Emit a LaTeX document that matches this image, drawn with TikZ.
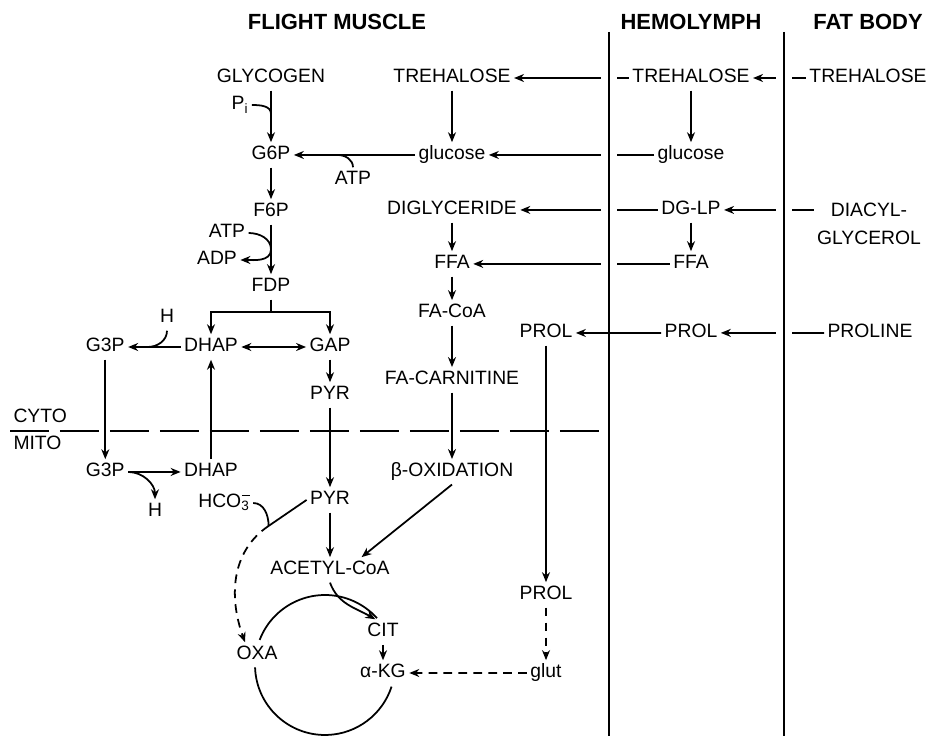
\documentclass[tikz,border=0pt]{standalone}
\usepackage{fontspec}
\setmainfont{Liberation Sans}
\usetikzlibrary{arrows.meta, positioning, calc}

\begin{document}
\begin{tikzpicture}[
    x=0.02cm, y=0.02cm,
    chem/.style={inner sep=2pt, outer sep=0pt, font=\fontsize{11}{13}\selectfont},
    mol/.style={chem, text height=8pt, text depth=2.5pt},
    region/.style={inner sep=2pt, font=\fontsize{12.5}{15}\selectfont\bfseries},
    arrow/.style={line width=1pt, -{Stealth[length=2mm, width=1.6mm]}},
    dblarrow/.style={line width=1pt, {Stealth[length=2mm, width=1.6mm]}-{Stealth[length=2mm, width=1.6mm]}},
    dasharrow/.style={arrow, dash pattern=on 5pt off 3.5pt},
    link/.style={line width=1pt},
    membrane/.style={line width=1pt, preaction={draw=white, line width=0.32cm}},
    cytomito/.style={line width=1pt, dash pattern=on 0.78cm off 0.22cm}
]
\useasboundingbox (0,0) rectangle (930,-736);

%% Titres des compartiments
\node[region] (tFM) at (337,-22) {FLIGHT MUSCLE};
\node[region] (tHL) at (691,-22) {HEMOLYMPH};
\node[region] (tFB) at (868,-22) {FAT BODY};

%% Glycolyse
\node[mol] (glyc) at (271,-78) {GLYCOGEN};
\node[mol] (pi) at (240,-105) {P\textsubscript{i}};
\node[mol, below=1.03cm of glyc] (g6p) {G6P};
\node[mol, below=0.63cm of g6p] (f6p) {F6P};
\node[mol] (atp2) at (227,-233) {ATP};
\node[mol] (adp) at (217,-260) {ADP};
\node[mol, below=0.99cm of f6p] (fdp) {FDP};
\node[mol] (dhap) at (211,-347) {DHAP};
\node[mol] (gap) at (330,-347) {GAP};
\node[mol, left=1.05cm of dhap] (g3p) {G3P};
\node[mol] (h1) at (167,-318) {H};
\node[mol, below=0.45cm of gap] (pyr1) {PYR};
\node[mol, below=1.99cm of dhap] (dhap2) {DHAP};
\node[mol, below=1.99cm of g3p] (g3p2) {G3P};
\node[mol] (h2) at (155,-512) {H};

%% Mitochondrie
\node[mol, anchor=west] (cyto) at (10,-418) {CYTO};
\node[mol, anchor=west] (mito) at (10,-445) {MITO};
\node[mol, below=1.59cm of pyr1] (pyr2) {PYR};
\node[mol] (hco) at (224,-503)
  {HCO\textsubscript{3}\llap{\raisebox{1.15ex}{\rule{0.4em}{0.6pt}}}};
\node[mol, below=0.89cm of pyr2] (acet) {ACETYL-CoA};
\node[mol] (oxa) at (257,-655) {OXA};
\node[mol] (akg) at (383,-673) {α-KG};
\node[mol, above=0.31cm of akg] (cit) {CIT};
\coordinate (tca) at (325,-665);

%% Substrats du muscle
\node[mol] (mTre) at (452,-78) {TREHALOSE};
\node[mol, below=1.03cm of mTre] (mGlc) {glucose};
\node[mol] (atp1) at (353,-180) {ATP};
\node[mol, below=0.59cm of mGlc] (mDg) {DIGLYCERIDE};
\node[mol, below=0.57cm of mDg] (mFfa) {FFA};
\node[mol, below=0.47cm of mFfa] (mFacoa) {FA-CoA};
\node[mol, below=0.83cm of mFacoa] (mCarn) {FA-CARNITINE};
\node[mol, below=1.33cm of mCarn] (mBox) {β-OXIDATION};
\node[mol] (mProl) at (546,-333) {PROL};
\node[mol, below=4.73cm of mProl] (lProl) {PROL};
\node[mol, below=1.05cm of lProl] (glut) {glut};

%% Hemolymphe
\node[mol] (hTre) at (691,-78) {TREHALOSE};
\node[mol, below=1.03cm of hTre] (hGlc) {glucose};
\node[mol, below=0.59cm of hGlc] (hDg) {DG-LP};
\node[mol, below=0.57cm of hDg] (hFfa) {FFA};
\node[mol, below=0.87cm of hFfa] (hProl) {PROL};

%% Corps gras
\node[mol] (fTre) at (868,-78) {TREHALOSE};
\node[chem, align=center, font=\fontsize{11}{16}\selectfont] (fDg) at (869,-224) {DIACYL-\\GLYCEROL};
\node[mol] (fPro) at (870,-333) {PROLINE};

%% Glycolyse : fleches
\draw[arrow] (glyc) -- (g6p);
\draw[link] (pi.east) to[out=0, in=90] ($(glyc.south)!0.45!(g6p.north)$);
\draw[arrow] (mGlc) -- (g6p);
\draw[link] (atp1.north) to[out=90, in=0] ($(g6p.east)!0.36!(mGlc.west)$);
\draw[arrow] (g6p) -- (f6p);
\draw[arrow] (f6p) -- (fdp);
\draw[arrow] (atp2.east) to[out=0, in=90] ($(f6p.south)!0.5!(fdp.north)$)
  to[out=-90, in=0] (adp.east);
\draw[link] (fdp.south) -- ++(0,-12) coordinate (fork);
\draw[arrow] (fork) -| (dhap.north);
\draw[arrow] (fork) -| (gap.north);
\draw[dblarrow] (dhap) -- (gap);
\draw[arrow] (dhap) -- (g3p);
\draw[link] (h1.south) to[out=-90, in=0] ($(g3p.east)!0.37!(dhap.west)$);
\draw[arrow] (g3p) -- (g3p2);
\draw[arrow] (dhap2) -- (dhap);
\draw[arrow] (g3p2) -- (dhap2);
\draw[arrow] (g3p2.east) to[out=0, in=90] (h2.north);
\draw[arrow] (gap) -- (pyr1);
\draw[arrow] (pyr1) -- (pyr2);

%% Mitochondrie : fleches
\draw[arrow] (pyr2) -- (acet);
\draw[link] (pyr2.west) -- ++(-38,-26) coordinate (carb);
\draw[link] (hco.east) to[out=0, in=90] (carb);
\draw[dasharrow] (carb) to[out=214, in=110] ($(oxa.north)!0.5!(oxa.north west)$);
\draw[arrow] (mBox.south) -- ($(acet.north)!0.5!(acet.north east)$);
\draw[arrow] (acet.south) to[out=-70, in=150] ($(cit.north)!0.4!(cit.north west)$);
\draw[link] ($(tca)+(159:1.4cm)$) arc[start angle=159, end angle=42, radius=1.4cm];
\draw[link] ($(tca)+(182:1.4cm)$) arc[start angle=182, end angle=342, radius=1.4cm];
\draw[arrow] (cit) -- (akg);
\draw[dasharrow] (glut) -- (akg);
\draw[arrow] (mProl) -- (lProl);
\draw[dasharrow] (lProl) -- (glut);

%% Substrats : fleches
\draw[arrow] (mTre) -- (mGlc);
\draw[arrow] (mDg) -- (mFfa);
\draw[arrow] (mFfa) -- (mFacoa);
\draw[arrow] (mFacoa) -- (mCarn);
\draw[arrow] (mCarn) -- (mBox);

%% Echanges entre compartiments
\draw[arrow] (hTre) -- (mTre);
\draw[arrow] (fTre) -- (hTre);
\draw[arrow] (hTre) -- (hGlc);
\draw[arrow] (hGlc) -- (mGlc);
\draw[arrow] (hDg) -- (mDg);
\draw[arrow] (fDg.west |- hDg) -- (hDg);
\draw[arrow] (hDg) -- (hFfa);
\draw[arrow] (hFfa) -- (mFfa);
\draw[arrow] (fPro) -- (hProl);

%% Cloisons
\draw[cytomito] (cyto.south west) -- ++(590,0);
\draw[membrane] (609,-32) -- ++(0,-704);
\draw[membrane] (784,-32) -- ++(0,-704);
\draw[arrow] (hProl) -- (mProl);
\end{tikzpicture}
\end{document}
